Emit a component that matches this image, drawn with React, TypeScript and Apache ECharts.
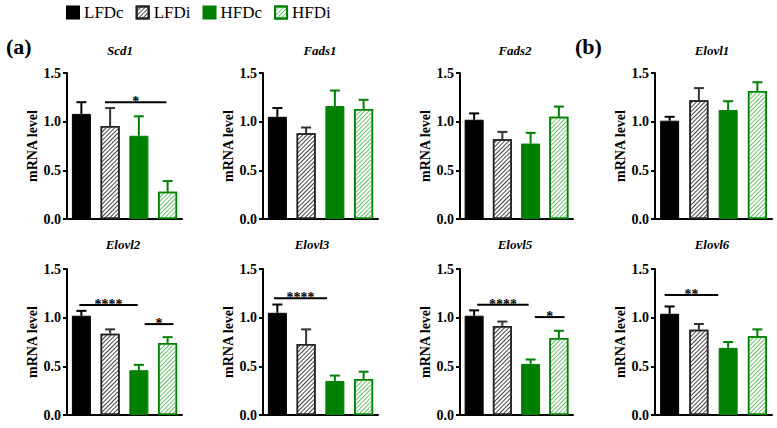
import React, { useEffect, useRef } from 'react';
import * as echarts from 'echarts';

const groups = ['LFDc', 'LFDi', 'HFDc', 'HFDi'];
const genes = ['Scd1', 'Fads1', 'Fads2', 'Elovl1', 'Elovl2', 'Elovl3', 'Elovl5', 'Elovl6'];
const yTicks = [0, 0.5, 1.0, 1.5];

const scd1Mean = [1.08, 0.955, 0.855, 0.28];
const scd1Top = [1.2, 1.14, 1.055, 0.39];
const fads1Mean = [1.05, 0.88, 1.16, 1.13];
const fads1Top = [1.14, 0.94, 1.32, 1.225];
const fads2Mean = [1.02, 0.82, 0.775, 1.05];
const fads2Top = [1.085, 0.895, 0.885, 1.155];
const elovl1Mean = [1.01, 1.22, 1.12, 1.315];
const elovl1Top = [1.05, 1.345, 1.21, 1.405];
const elovl2Mean = [1.02, 0.835, 0.46, 0.74];
const elovl2Top = [1.07, 0.88, 0.515, 0.8];
const elovl3Mean = [1.05, 0.73, 0.35, 0.37];
const elovl3Top = [1.135, 0.88, 0.405, 0.445];
const elovl5Mean = [1.02, 0.915, 0.525, 0.79];
const elovl5Top = [1.075, 0.96, 0.57, 0.865];
const elovl6Mean = [1.04, 0.875, 0.69, 0.81];
const elovl6Top = [1.115, 0.935, 0.75, 0.88];

// significance bars: from / to in category units, height in data units
const scd1Sig = [{ x1: 0.82, x2: 2.96, y: 1.2, label: '*' }];
const elovl2Sig = [
  { x1: -0.07, x2: 1.96, y: 1.13, label: '****' },
  { x1: 2.2, x2: 3.2, y: 0.934, label: '*' },
];
const elovl3Sig = [{ x1: -0.12, x2: 1.73, y: 1.2, label: '****' }];
const elovl5Sig = [
  { x1: 0.11, x2: 1.93, y: 1.133, label: '****' },
  { x1: 2.15, x2: 3.2, y: 1.006, label: '*' },
];
const elovl6Sig = [{ x1: -0.17, x2: 1.66, y: 1.232, label: '**' }];

const geneMeans = [scd1Mean, fads1Mean, fads2Mean, elovl1Mean, elovl2Mean, elovl3Mean, elovl5Mean, elovl6Mean];
const geneTops = [scd1Top, fads1Top, fads2Top, elovl1Top, elovl2Top, elovl3Top, elovl5Top, elovl6Top];
const geneSigs = [scd1Sig, [], [], [], elovl2Sig, elovl3Sig, elovl5Sig, elovl6Sig];

const FONT = 'Liberation Serif';
const GREEN = '#008000';

const gridLefts = [67, 263, 460, 655];
const gridWidths = [115, 115, 113, 117];
const rowTops = [73, 269];
const gridHeight = 146;
const titleXs = [[120, 320, 515, 712], [123, 312, 515, 712]];
const titleYs = [50, 244];

const hatchDark = {
  symbol: 'rect',
  symbolSize: 1,
  rotation: -Math.PI / 4,
  dashArrayX: [1, 0],
  dashArrayY: [1, 1.8],
  color: '#444',
};
const hatchGreen = {
  symbol: 'rect',
  symbolSize: 1,
  rotation: -Math.PI / 4,
  dashArrayX: [1, 0],
  dashArrayY: [1, 1.8],
  color: '#6cc06c',
};

const groupStyles: any[] = [
  { color: '#000', borderColor: '#000', borderWidth: 1 },
  { color: '#fff', borderColor: '#222', borderWidth: 1.5, decal: hatchDark },
  { color: GREEN, borderColor: GREEN, borderWidth: 1 },
  { color: '#fff', borderColor: GREEN, borderWidth: 1.5, decal: hatchGreen },
];
const errColors = ['#000', '#333', GREEN, GREEN];

function buildOption() {
  const grid: any[] = [];
  const xAxis: any[] = [];
  const yAxis: any[] = [];
  const series: any[] = [];
  const graphic: any[] = [];

  genes.forEach((gene, g) => {
    const row = Math.floor(g / 4);
    const col = g % 4;
    grid.push({
      left: gridLefts[col],
      top: rowTops[row],
      width: gridWidths[col],
      height: gridHeight,
      containLabel: false,
    });
    xAxis.push({
      type: 'category',
      gridIndex: g,
      data: groups,
      axisLine: { show: true, lineStyle: { color: '#000', width: 2 } },
      axisTick: { show: false },
      axisLabel: { show: false },
      splitLine: { show: false },
    });
    yAxis.push({
      type: 'value',
      gridIndex: g,
      min: yTicks[0],
      max: yTicks[yTicks.length - 1],
      interval: 0.5,
      name: 'mRNA level',
      nameLocation: 'middle',
      nameGap: 26,
      nameRotate: 90,
      nameTextStyle: { fontFamily: FONT, fontWeight: 'bold', fontSize: 14, color: '#000' },
      axisLine: { show: true, lineStyle: { color: '#000', width: 2 } },
      axisTick: { show: true, length: 4, lineStyle: { color: '#000', width: 2 } },
      axisLabel: {
        margin: 6,
        fontFamily: FONT,
        fontWeight: 'bold',
        fontSize: 14,
        color: '#000',
        formatter: (v: number) => v.toFixed(1),
      },
      splitLine: { show: false },
    });

    const means = geneMeans[g];
    const tops = geneTops[g];
    groups.forEach((name, j) => {
      series.push({
        type: 'bar',
        name,
        xAxisIndex: g,
        yAxisIndex: g,
        barWidth: 19,
        barGap: '-100%',
        itemStyle: groupStyles[j],
        data: groups.map((_, k) => (k === j ? means[k] : '-')),
        z: 2,
      });
    });

    series.push({
      type: 'custom',
      name: 'err' + g,
      xAxisIndex: g,
      yAxisIndex: g,
      z: 3,
      itemStyle: { color: '#000' },
      encode: { x: 0, y: [1, 2] },
      data: means.map((m, j) => [j, m, tops[j]]),
      renderItem: (params: any, api: any) => {
        const i = api.value(0);
        const p0 = api.coord([i, api.value(1)]);
        const p1 = api.coord([i, api.value(2)]);
        const c = errColors[params.dataIndex];
        return {
          type: 'group',
          children: [
            { type: 'line', shape: { x1: p0[0], y1: p0[1], x2: p1[0], y2: p1[1] }, style: { stroke: c, lineWidth: 2 } },
            { type: 'line', shape: { x1: p1[0] - 5, y1: p1[1], x2: p1[0] + 5, y2: p1[1] }, style: { stroke: c, lineWidth: 2 } },
          ],
        };
      },
    });

    const sigs = geneSigs[g];
    if (sigs.length) {
      series.push({
        type: 'custom',
        name: 'sig' + g,
        xAxisIndex: g,
        yAxisIndex: g,
        z: 4,
        itemStyle: { color: '#000' },
        encode: { x: 0, y: 1 },
        data: sigs.map((s) => [0, s.y]),
        renderItem: (params: any, api: any) => {
          const s = sigs[params.dataIndex];
          const base = api.coord([0, api.value(1)]);
          const band = api.size([1, 0])[0];
          const xa = base[0] + s.x1 * band;
          const xb = base[0] + s.x2 * band;
          return {
            type: 'group',
            children: [
              { type: 'line', shape: { x1: xa, y1: base[1], x2: xb, y2: base[1] }, style: { stroke: '#000', lineWidth: 2 } },
              {
                type: 'text',
                x: (xa + xb) / 2,
                y: base[1] - 0.5,
                style: {
                  text: s.label,
                  align: 'center',
                  verticalAlign: 'middle',
                  fontFamily: FONT,
                  fontWeight: 'bold',
                  fontSize: 14,
                  fill: '#000',
                },
              },
            ],
          };
        },
      });
    }

    graphic.push({
      type: 'text',
      x: titleXs[row][col],
      y: titleYs[row],
      style: {
        text: gene,
        align: 'center',
        verticalAlign: 'middle',
        fontFamily: FONT,
        fontStyle: 'italic',
        fontWeight: 'bold',
        fontSize: 13,
        fill: '#000',
      },
    });
  });

  graphic.push({
    type: 'text',
    x: 6,
    y: 46,
    style: { text: '(a)', align: 'left', verticalAlign: 'middle', fontFamily: FONT, fontWeight: 'bold', fontSize: 22, fill: '#000' },
  });
  graphic.push({
    type: 'text',
    x: 575,
    y: 46,
    style: { text: '(b)', align: 'left', verticalAlign: 'middle', fontFamily: FONT, fontWeight: 'bold', fontSize: 22, fill: '#000' },
  });

  return {
    animation: false,
    backgroundColor: '#fff',
    textStyle: { fontFamily: FONT },
    legend: {
      data: groups,
      left: 66,
      top: 4,
      padding: 0,
      icon: 'rect',
      itemWidth: 12,
      itemHeight: 12,
      itemGap: 12,
      selectedMode: false,
      textStyle: { fontFamily: FONT, fontSize: 17, color: '#000' },
    },
    grid,
    xAxis,
    yAxis,
    series,
    graphic,
  };
}

export default function App() {
  const ref = useRef<HTMLDivElement>(null);
  useEffect(() => {
    if (!ref.current) return;
    const chart = echarts.init(ref.current, undefined, { renderer: 'svg' });
    chart.setOption(buildOption() as any);
    return () => chart.dispose();
  }, []);
  return <div ref={ref} style={{ width: 777, height: 428, position: 'absolute', left: 0, top: 0 }} />;
}
